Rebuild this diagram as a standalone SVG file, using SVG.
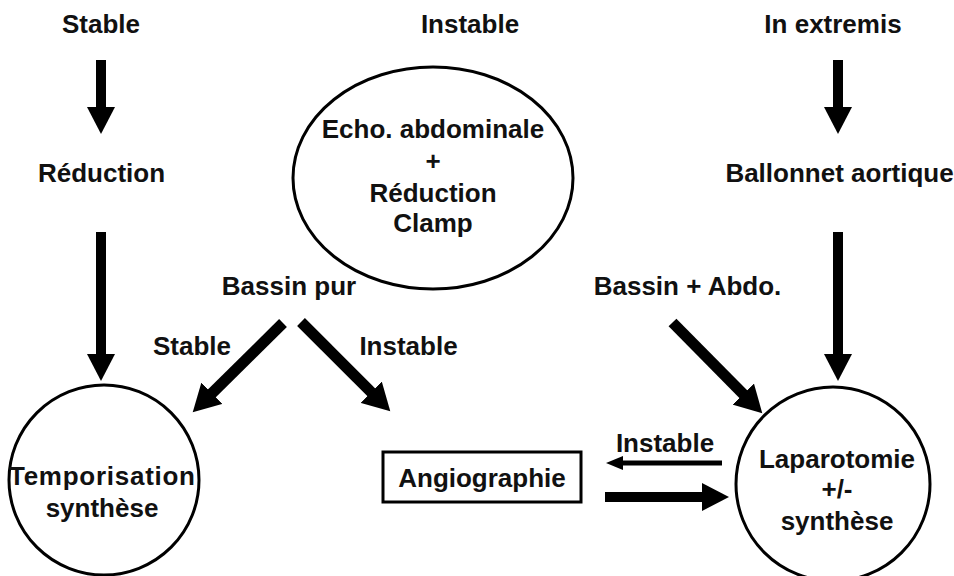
<svg xmlns="http://www.w3.org/2000/svg" width="954" height="576" viewBox="0 0 954 576">
<style>
  text { font-family: "Liberation Sans", Arial, sans-serif; font-weight: bold; font-size: 26px; fill: #111; text-anchor: middle; }
  .shape { fill: #fff; stroke: #000; stroke-width: 3; }
  .big { stroke: #000; stroke-width: 10; fill: none; }
  .diag { stroke: #000; stroke-width: 11; fill: none; }
  .thin { stroke: #000; stroke-width: 5; fill: none; }
</style>
<defs>
  <marker id="hv" markerUnits="userSpaceOnUse" markerWidth="28" markerHeight="28" refX="1" refY="14" orient="auto">
    <path d="M0,0 L27,14 L0,28 z" fill="#000"/>
  </marker>
  <marker id="hd" markerUnits="userSpaceOnUse" markerWidth="30" markerHeight="30" refX="1" refY="15" orient="auto">
    <path d="M0,0 L27,15 L0,30 z" fill="#000"/>
  </marker>
  <marker id="hs" markerUnits="userSpaceOnUse" markerWidth="18" markerHeight="14" refX="1" refY="7" orient="auto">
    <path d="M0,0 L17,7 L0,14 z" fill="#000"/>
  </marker>
</defs>
<rect width="954" height="576" fill="#fff"/>

<g id="connectors">
  <line class="big" x1="101" y1="60" x2="101" y2="108" marker-end="url(#hv)"/>
  <line class="big" x1="101" y1="232" x2="101" y2="355" marker-end="url(#hv)"/>
  <line class="big" x1="838" y1="60" x2="838" y2="108" marker-end="url(#hv)"/>
  <line class="big" x1="838" y1="232" x2="838" y2="355" marker-end="url(#hv)"/>
  <line class="diag" x1="283" y1="323" x2="211.2" y2="394" marker-end="url(#hd)"/>
  <line class="diag" x1="301" y1="322" x2="371.9" y2="392.9" marker-end="url(#hd)"/>
  <line class="diag" x1="672.5" y1="322.5" x2="744" y2="394.8" marker-end="url(#hd)"/>
  <line class="thin" x1="722" y1="463" x2="622" y2="463" marker-end="url(#hs)"/>
  <line class="big" x1="605" y1="497" x2="703" y2="497" marker-end="url(#hv)"/>
  <text x="192" y="355">Stable</text>
  <text x="408.5" y="355">Instable</text>
  <text x="665" y="452">Instable</text>
</g>

<g id="stable"><text x="101" y="33">Stable</text></g>
<g id="instable"><text x="470" y="33">Instable</text></g>
<g id="in-extremis"><text x="833" y="33">In extremis</text></g>
<g id="reduction"><text x="101.5" y="182">Réduction</text></g>
<g id="ballonnet"><text x="839.5" y="182">Ballonnet aortique</text></g>

<g id="echo">
  <ellipse class="shape" cx="433" cy="178" rx="140" ry="111"/>
  <text x="433" y="138">Echo. abdominale</text>
  <text x="433" y="170">+</text>
  <text x="433" y="202">Réduction</text>
  <text x="433" y="232">Clamp</text>
</g>

<g id="bassin-pur"><text x="289" y="295">Bassin pur</text></g>
<g id="bassin-abdo"><text x="687.5" y="295">Bassin + Abdo.</text></g>

<g id="temporisation">
  <circle class="shape" cx="104" cy="480" r="95"/>
  <text x="102" y="485" textLength="186" lengthAdjust="spacing">Temporisation</text>
  <text x="102" y="517">synthèse</text>
</g>

<g id="angiographie">
  <rect class="shape" x="383" y="452" width="198" height="50"/>
  <text x="482" y="487">Angiographie</text>
</g>

<g id="laparotomie">
  <circle class="shape" cx="833" cy="484" r="97"/>
  <text x="837" y="468">Laparotomie</text>
  <text x="837" y="498">+/-</text>
  <text x="837" y="530">synthèse</text>
</g>
</svg>
